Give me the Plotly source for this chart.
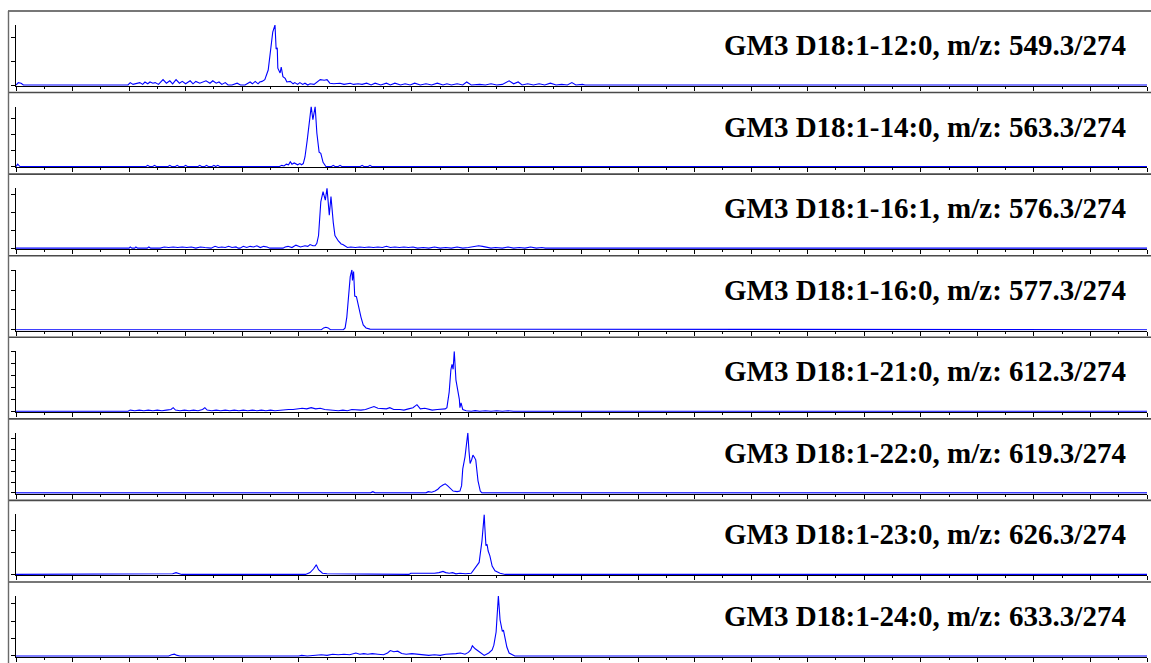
import plotly.graph_objects as go

W, H = 1151, 663

titles = [
    "GM3 D18:1-12:0, m/z: 549.3/274",
    "GM3 D18:1-14:0, m/z: 563.3/274",
    "GM3 D18:1-16:1, m/z: 576.3/274",
    "GM3 D18:1-16:0, m/z: 577.3/274",
    "GM3 D18:1-21:0, m/z: 612.3/274",
    "GM3 D18:1-22:0, m/z: 619.3/274",
    "GM3 D18:1-23:0, m/z: 626.3/274",
    "GM3 D18:1-24:0, m/z: 633.3/274",
]

# retention time (min) and relative intensity (% of panel full scale)
t1 = [0.00, 0.04, 0.09, 0.13, 1.98, 2.02, 2.07, 2.12, 2.19, 2.24,
      2.28, 2.33, 2.37, 2.42, 2.46, 2.52, 2.60, 2.66, 2.72, 2.77,
      2.83, 2.89, 2.94, 3.00, 3.08, 3.13, 3.18, 3.25, 3.31, 3.36,
      3.43, 3.48, 3.54, 3.59, 3.64, 3.70, 3.75, 3.82, 3.91, 3.97,
      4.05, 4.14, 4.18, 4.23, 4.28, 4.31, 4.35, 4.40, 4.46, 4.51,
      4.54, 4.58, 4.60, 4.62, 4.63, 4.67, 4.69, 4.72, 4.76, 4.79,
      4.85, 4.90, 4.93, 4.98, 5.02, 5.07, 5.11, 5.16, 5.20, 5.27,
      5.34, 5.38, 5.45, 5.50, 5.55, 5.62, 5.73, 5.80, 5.91, 5.97,
      6.05, 6.12, 6.20, 6.28, 6.35, 6.45, 6.55, 6.62, 6.70, 6.80,
      6.88, 6.97, 7.05, 7.15, 7.25, 7.35, 7.45, 7.55, 7.62, 7.70,
      7.80, 7.90, 7.97, 8.05, 8.20, 8.30, 8.40, 8.50, 8.60, 8.72,
      8.80, 8.88, 8.95, 9.05, 9.15, 9.25, 9.35, 9.45, 9.55, 9.65,
      9.75, 9.83, 9.90, 10.02, 10.06, 20.00]
v1 = [0, 4, 3, 0, 0, 4, 1, 2, 4, 1,
      5, 2, 5, 3, 4, 1, 9, 3, 7, 2,
      9, 3, 6, 2, 7, 2, 6, 3, 5, 7,
      3, 7, 3, 5, 1, 4, 0, 0, 3, 0,
      0, 5, 2, 6, 2, 5, 6, 9, 25, 65,
      88, 100, 60, 62, 28, 20, 30, 14, 11, 5,
      6, 2, 4, 1, 4, 1, 3, 0, 2, 1,
      6, 9, 8, 9, 3, 2, 3, 1, 3, 1,
      2, 1, 3, 0, 3, 0, 3, 0, 3, 0,
      2, 0, 3, 0, 2, 0, 3, 0, 2, 0,
      2, 0, 5, 0, 1, 0, 2, 0, 1, 7,
      2, 5, 0, 2, 0, 2, 0, 3, 0, 1,
      0, 4, 0, 1, 0, 0]

t2 = [0.00, 0.03, 0.07, 2.30, 2.33, 2.36, 2.42, 2.45, 2.48, 2.69,
      2.72, 2.75, 2.82, 2.85, 2.88, 2.97, 3.00, 3.03, 3.22, 3.25,
      3.28, 3.34, 3.37, 3.40, 3.47, 3.50, 3.53, 3.57, 3.60, 4.66,
      4.70, 4.74, 4.78, 4.82, 4.85, 4.88, 4.92, 4.95, 4.98, 5.02,
      5.05, 5.08, 5.11, 5.15, 5.18, 5.22, 5.25, 5.29, 5.32, 5.34,
      5.36, 5.39, 5.43, 5.48, 5.58, 5.61, 5.64, 5.70, 5.73, 5.76,
      6.09, 6.12, 6.15, 6.23, 6.26, 6.29, 20.00]
v2 = [0, 4, 0, 0, 2, 0, 0, 2, 0, 0,
      2, 0, 0, 2, 0, 0, 2, 0, 0, 2,
      0, 0, 2, 0, 0, 2, 0, 2, 0, 0,
      2, 1, 4, 3, 8, 4, 6, 5, 3, 5,
      3, 5, 16, 44, 73, 100, 78, 100, 56, 35,
      24, 22, 7, 0, 0, 2, 0, 0, 2, 0,
      0, 2, 0, 0, 2, 0, 0]

t3 = [0.00, 2.00, 2.02, 2.05, 2.10, 2.12, 2.15, 2.32, 2.35, 2.38,
      2.55, 2.62, 2.70, 2.78, 2.86, 2.94, 3.02, 3.10, 3.18, 3.26,
      3.34, 3.45, 3.52, 3.58, 3.64, 3.70, 3.76, 3.82, 3.89, 3.93,
      3.96, 4.02, 4.08, 4.14, 4.20, 4.26, 4.32, 4.38, 4.44, 4.49,
      4.55, 4.72, 4.76, 4.81, 4.88, 4.95, 5.03, 5.11, 5.16, 5.20,
      5.25, 5.29, 5.32, 5.35, 5.39, 5.43, 5.47, 5.50, 5.54, 5.57,
      5.61, 5.64, 5.70, 5.75, 5.78, 5.82, 5.86, 5.92, 6.00, 6.08,
      6.16, 6.24, 6.32, 6.40, 6.48, 6.55, 6.62, 6.70, 6.78, 6.86,
      6.94, 7.02, 7.10, 7.20, 7.30, 7.40, 7.50, 7.60, 7.70, 7.80,
      7.90, 8.00, 8.10, 8.18, 8.25, 8.32, 8.40, 8.48, 8.60, 8.70,
      8.80, 8.90, 9.00, 9.10, 9.20, 9.30, 9.36, 20.00]
v3 = [0, 0, 2, 0, 0, 2, 0, 0, 2, 0,
      0, 2, 1, 2, 1, 2, 1, 2, 0, 2,
      1, 0, 3, 1, 2, 1, 3, 1, 2, 0,
      0, 3, 1, 3, 2, 4, 1, 3, 2, 0,
      0, 0, 2, 3, 1, 5, 2, 4, 3, 6,
      4, 4, 8, 21, 77, 94, 80, 100, 55, 86,
      43, 21, 12, 7, 6, 3, 1, 2, 1, 2,
      1, 2, 1, 2, 1, 3, 1, 2, 1, 2,
      1, 2, 0, 1, 0, 2, 0, 1, 0, 2,
      0, 1, 2, 4, 3, 1, 0, 1, 0, 2,
      0, 1, 0, 2, 0, 1, 0, 0]

t4 = [0.00, 5.40, 5.44, 5.48, 5.52, 5.56, 5.79, 5.82, 5.85, 5.88,
      5.91, 5.94, 5.95, 5.97, 5.99, 6.02, 6.05, 6.10, 6.14, 6.19,
      6.26, 6.32, 6.36, 20.00]
v4 = [0, 0, 3, 4, 3, 0, 0, 3, 21, 62,
      88, 100, 82, 97, 56, 55, 41, 21, 8, 3,
      1, 1, 0, 0]

t5 = [0.00, 1.98, 2.02, 2.10, 2.18, 2.26, 2.34, 2.42, 2.50, 2.58,
      2.66, 2.74, 2.78, 2.82, 2.90, 2.98, 3.06, 3.14, 3.22, 3.30,
      3.34, 3.38, 3.46, 3.54, 3.62, 3.70, 3.78, 3.86, 3.94, 4.02,
      4.10, 4.18, 4.26, 4.34, 4.42, 4.50, 4.58, 4.66, 4.74, 4.82,
      4.90, 4.98, 5.06, 5.14, 5.22, 5.30, 5.38, 5.46, 5.54, 5.62,
      5.70, 5.78, 5.86, 5.94, 6.02, 6.10, 6.18, 6.26, 6.33, 6.40,
      6.49, 6.55, 6.61, 6.68, 6.79, 6.86, 6.94, 7.02, 7.09, 7.15,
      7.23, 7.30, 7.36, 7.45, 7.52, 7.59, 7.62, 7.66, 7.69, 7.71,
      7.73, 7.75, 7.78, 7.82, 7.84, 7.85, 7.87, 7.90, 7.96, 8.05,
      8.12, 8.20, 8.30, 8.40, 8.50, 8.60, 8.70, 8.80, 8.90, 20.00]
v5 = [0, 0, 2, 1, 2, 1, 2, 1, 2, 1,
      2, 3, 6, 2, 1, 2, 1, 2, 1, 3,
      6, 2, 1, 2, 1, 2, 1, 2, 1, 2,
      1, 2, 1, 2, 1, 2, 1, 2, 2, 3,
      3, 4, 5, 4, 6, 4, 5, 3, 2, 2,
      1, 2, 1, 3, 2, 2, 3, 5, 8, 5,
      5, 4, 6, 3, 3, 2, 4, 6, 11, 4,
      5, 3, 2, 3, 3, 4, 6, 32, 69, 78,
      70, 100, 52, 30, 20, 6, 14, 3, 1, 0,
      1, 0, 1, 0, 1, 0, 1, 0, 0, 0]

t6 = [0.00, 6.27, 6.31, 6.35, 7.25, 7.29, 7.35, 7.41, 7.46, 7.50,
      7.55, 7.59, 7.63, 7.66, 7.73, 7.80, 7.85, 7.88, 7.90, 7.94,
      7.97, 7.99, 8.01, 8.03, 8.06, 8.08, 8.10, 8.13, 8.17, 8.21,
      8.24, 8.33, 8.36, 8.39, 8.49, 8.52, 8.55, 20.00]
v6 = [0, 0, 2, 0, 0, 2, 1, 3, 6, 10,
      13, 15, 12, 9, 3, 2, 3, 12, 40, 60,
      85, 100, 70, 49, 56, 63, 60, 55, 20, 3,
      0, 0, 1, 0, 0, 1, 0, 0]

t7 = [0.00, 2.72, 2.77, 2.83, 2.88, 2.93, 5.12, 5.20, 5.26, 5.31,
      5.35, 5.42, 5.50, 5.60, 5.70, 5.80, 5.90, 6.00, 6.06, 6.95,
      6.98, 7.05, 7.12, 7.20, 7.30, 7.40, 7.48, 7.55, 7.60, 7.66,
      7.72, 7.78, 7.85, 7.95, 8.05, 8.13, 8.19, 8.24, 8.26, 8.28,
      8.29, 8.31, 8.33, 8.35, 8.38, 8.42, 8.47, 8.56, 8.65, 20.00]
v7 = [0, 0, 1, 3, 1, 0, 0, 3, 9, 16,
      8, 2, 1, 1, 0, 1, 0, 1, 0, 0,
      2, 2, 1, 2, 1, 2, 3, 5, 3, 2,
      3, 1, 2, 1, 2, 13, 20, 56, 80, 100,
      80, 48, 50, 39, 31, 14, 6, 2, 0, 0]

t8 = [0.00, 2.70, 2.75, 2.80, 2.85, 2.90, 5.00, 5.05, 5.15, 5.30,
      5.40, 5.50, 5.60, 5.70, 5.80, 5.90, 6.01, 6.08, 6.15, 6.22,
      6.30, 6.40, 6.50, 6.57, 6.62, 6.68, 6.75, 6.82, 6.90, 7.00,
      7.10, 7.20, 7.30, 7.40, 7.50, 7.60, 7.70, 7.78, 7.86, 7.94,
      8.00, 8.04, 8.07, 8.12, 8.18, 8.23, 8.28, 8.36, 8.42, 8.45,
      8.49, 8.53, 8.56, 8.60, 8.62, 8.65, 8.68, 8.72, 8.82, 20.00]
v8 = [0, 0, 2, 3, 1, 0, 0, 1, 0, 1,
      2, 1, 3, 2, 3, 2, 5, 3, 4, 3,
      4, 3, 2, 5, 9, 7, 8, 4, 3, 4,
      3, 2, 1, 2, 1, 3, 3, 4, 5, 3,
      6, 10, 17, 12, 8, 4, 1, 5, 10, 18,
      40, 100, 60, 41, 43, 29, 15, 5, 0, 0]

# y tick spacing per panel (% of full scale)
ytick_step = [40, 26.5, 30, 33, 20, 18, 37, 29]

times = [t1, t2, t3, t4, t5, t6, t7, t8]
vals = [v1, v2, v3, v4, v5, v6, v7, v8]
for k, (a, b) in enumerate(zip(times, vals)):
    if len(a) != len(b):
        raise ValueError(f"panel {k+1}: {len(a)} times vs {len(b)} values")

fig = go.Figure()
layout = {}
shapes = []
annotations = []

panel_top0 = 11.0
panel_h = 81.57
x_left_px, x_right_px = 16.0, 1147.0
ylo = -1.5

def py(px):
    return 1 - px / H

for i in range(8):
    T = panel_top0 + i * panel_h
    B = T + 74.0
    top = T + 14.0
    ppu = (B - top) / 100.0
    bottom = B - ylo * ppu
    sx = "" if i == 0 else str(i + 1)
    fig.add_trace(go.Scatter(
        x=times[i], y=vals[i], mode="lines",
        line=dict(color="#0000ff", width=1.1),
        xaxis="x" + sx, yaxis="y" + sx, showlegend=False,
        hoverinfo="skip"))
    layout["xaxis" + sx] = dict(
        domain=[x_left_px / W, x_right_px / W], anchor="y" + sx,
        range=[0, 20], showline=True, linecolor="black", linewidth=1,
        ticks="outside", ticklen=4, tickcolor="black", tickwidth=1,
        dtick=1, tick0=0, showticklabels=False, showgrid=False,
        zeroline=False,
        minor=dict(dtick=0.5, ticks="outside", ticklen=2,
                   tickcolor="black", showgrid=False))
    layout["yaxis" + sx] = dict(
        domain=[py(bottom), py(top)], anchor="x" + sx,
        range=[ylo, 100], showline=True, linecolor="black", linewidth=1,
        ticks="outside", ticklen=4, tickcolor="black", tickwidth=1,
        tick0=0, dtick=ytick_step[i], showticklabels=False,
        showgrid=False, zeroline=False)
    shapes.append(dict(type="line", xref="paper", yref="paper",
                       x0=8 / W, x1=1, y0=py(T), y1=py(T),
                       line=dict(color="#4a4a4a", width=1.6)))
    annotations.append(dict(
        xref="paper", yref="paper", x=1128 / W, y=py(T + 34),
        xanchor="right", yanchor="middle", showarrow=False,
        text="<b>" + titles[i] + "</b>",
        font=dict(family="Liberation Serif", size=29, color="black")))

shapes.append(dict(type="line", xref="paper", yref="paper",
                   x0=8.5 / W, x1=8.5 / W, y0=py(panel_top0), y1=0,
                   line=dict(color="#6a6a6a", width=1.4)))

fig.update_layout(
    width=W, height=H, margin=dict(l=0, r=0, t=0, b=0),
    paper_bgcolor="white", plot_bgcolor="white",
    shapes=shapes, annotations=annotations, **layout)

fig.write_html("out.html")
